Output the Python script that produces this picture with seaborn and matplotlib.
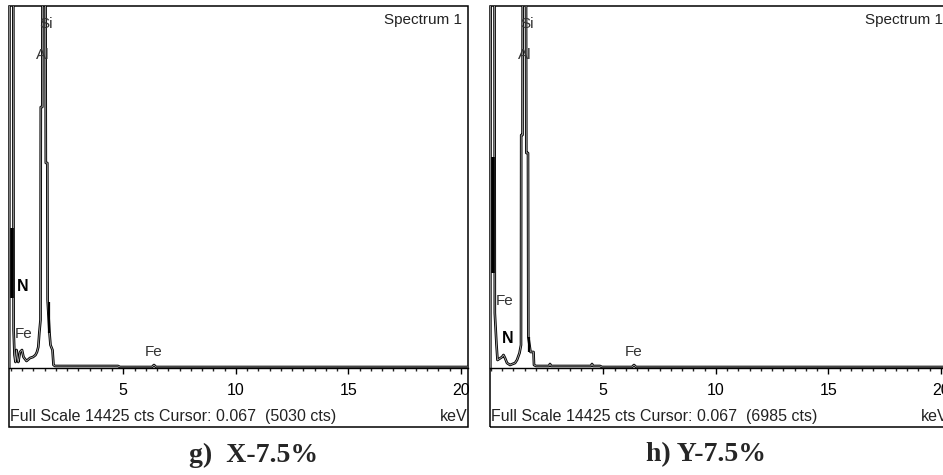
import numpy as np
import pandas as pd
import matplotlib
matplotlib.use('Agg')
import matplotlib.pyplot as plt
from matplotlib.patches import Rectangle
from matplotlib.ticker import MultipleLocator
import seaborn as sns

sns.set_style('white')
plt.rcParams['font.family'] = ['Liberation Sans', 'DejaVu Sans']

FULL_SCALE = 14425

# spectrum g) X-7.5%  (energy keV, counts)
g_energy = [-0.071, -0.058, 0.111, 0.124, 0.164, 0.209, 0.253, 0.298, 0.333, 0.409, 0.498,
            0.564, 0.698, 0.853, 0.987, 1.098, 1.164, 1.222, 1.267, 1.320, 1.333, 1.400,
            1.409, 1.542, 1.556, 1.622, 1.636, 1.720, 1.764, 1.853, 1.898, 1.964, 4.764,
            4.853, 6.276, 6.364, 6.453, 20.41]
g_counts = [0, 15500, 15500, 1514, 518, 239, 717, 399, 239, 638, 717,
            438, 279, 399, 438, 518, 638, 837, 1395, 1913, 10400, 10400,
            15500, 15500, 8170, 8170, 2710, 1395, 917, 717, 120, 80, 80,
            40, 40, 120, 40, 40]
# overlay (black) segments: energy, low, high
g_bar_e = [0.045, 1.70]
g_bar_lo = [2790, 1390]
g_bar_hi = [5580, 2630]

# spectrum h) Y-7.5%
h_energy = [-0.022, -0.009, 0.164, 0.178, 0.253, 0.298, 0.498, 0.564, 0.631, 0.720, 0.853,
            1.076, 1.164, 1.276, 1.342, 1.351, 1.409, 1.418, 1.564, 1.578, 1.653, 1.667,
            1.764, 1.898, 1.920, 2.009, 2.587, 2.631, 2.676, 4.453, 4.498, 4.542, 4.853,
            4.942, 6.276, 6.364, 6.453, 20.85]
h_counts = [0, 15500, 15500, 2190, 917, 319, 438, 518, 399, 199, 120,
            199, 319, 598, 917, 9285, 9285, 15500, 15500, 8568, 8568, 1235,
            638, 638, 120, 80, 80, 160, 80, 80, 160, 80, 80,
            40, 40, 120, 40, 40]
h_bar_e = [0.09, 1.711]
h_bar_lo = [3790, 640]
h_bar_hi = [8410, 1235]

# element labels: text, energy, counts, bold
g_labels = [('Si', 1.56, 13700, False), ('Al', 1.41, 12470, False),
            ('N', 0.54, 3230, True), ('Fe', 0.56, 1355, False), ('Fe', 6.34, 640, False)]
h_labels = [('Si', 1.63, 13700, False), ('Al', 1.50, 12470, False),
            ('Fe', 0.63, 2670, False), ('N', 0.74, 1195, True), ('Fe', 6.35, 640, False)]

cursor_cts = [5030, 6985]
captions = ['g)  X-7.5%', 'h) Y-7.5%']
caption_x = [254, 706]
xmins = [-0.08, -0.036]

W, H = 943, 475
fig = plt.figure(figsize=(W / 100, H / 100), dpi=100)

panels = [(g_energy, g_counts, g_bar_e, g_bar_lo, g_bar_hi, g_labels),
          (h_energy, h_counts, h_bar_e, h_bar_lo, h_bar_hi, h_labels)]
lefts = [9, 490]

for i, (en, ct, be, blo, bhi, labs) in enumerate(panels):
    ax = fig.add_axes([lefts[i] / W, (H - 427) / H, 459 / W, 421 / H])
    df = pd.DataFrame({'keV': en, 'cts': ct})
    sns.lineplot(data=df, x='keV', y='cts', sort=False, estimator=None,
                 color='black', lw=1.9, ax=ax)
    sns.lineplot(data=df, x='keV', y='cts', sort=False, estimator=None,
                 color='#a8a8a8', lw=0.6, ax=ax)
    ax.vlines(be, blo, bhi, color='black', lw=[2.6, 1.6])

    ax.set_xlim(xmins[i], xmins[i] + 459 / 22.5)
    ax.set_ylim(-FULL_SCALE * 59 / 362, FULL_SCALE)
    ax.set_xlabel('')
    ax.set_ylabel('')
    ax.set_yticks([])
    ax.set_xticks([5, 10, 15, 20])
    ax.set_xticklabels(['5', '10', '15', '20'])
    ax.xaxis.set_minor_locator(MultipleLocator(0.5))
    ax.tick_params(axis='x', which='major', direction='out', length=4, width=1,
                   pad=6.5, labelsize=11.5, colors='black', bottom=True)
    ax.tick_params(axis='x', which='minor', direction='out', length=2.5, width=1,
                   bottom=True)
    for s in ['top', 'left', 'right']:
        ax.spines[s].set_visible(False)
    ax.spines['bottom'].set_position(('data', 0))
    ax.spines['bottom'].set_color('black')
    ax.spines['bottom'].set_linewidth(1.0)
    ax.add_patch(Rectangle((0, 0), 1, 1, transform=ax.transAxes, fill=False,
                           edgecolor='black', lw=1.1, clip_on=False))

    for txt, x, y, bold in labs:
        ax.text(x, y, txt, ha='center', va='center', fontsize=11.5 if bold else 11,
                fontweight='bold' if bold else 'normal',
                color='black' if bold else '#333333')

    ax.text(0.987, 0.967, 'Spectrum 1', transform=ax.transAxes, ha='right',
            va='center', fontsize=11, color='#222222')
    ax.text(0.002, 0.024, f'Full Scale {FULL_SCALE} cts Cursor: 0.067  ({cursor_cts[i]} cts)',
            transform=ax.transAxes, ha='left', va='center', fontsize=11.5, color='#222222')
    ax.text(0.998, 0.024, 'keV', transform=ax.transAxes, ha='right', va='center',
            fontsize=11.5, color='#222222')

    fig.text(caption_x[i] / W, 1 - 455 / H, captions[i], ha='center', va='center',
             fontsize=20, fontweight='bold', family=['Liberation Serif', 'DejaVu Serif'])

fig.savefig('out.png', dpi=100)
